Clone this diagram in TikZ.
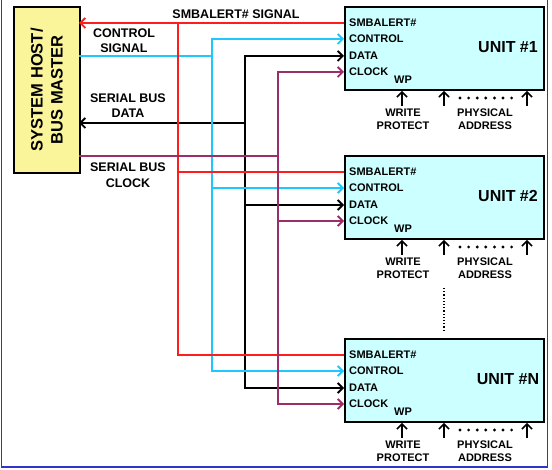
\documentclass[tikz,border=0pt]{standalone}
\usepackage{fontspec}
\setmainfont{Liberation Sans}
\usetikzlibrary{arrows.meta}
\definecolor{sigred}{RGB}{255,28,28}
\definecolor{sigcyan}{RGB}{30,200,255}
\definecolor{sigpurple}{RGB}{155,45,105}
\definecolor{unitfill}{RGB}{204,255,255}
\definecolor{hostfill}{RGB}{250,245,155}
\definecolor{frameblue}{RGB}{50,50,205}
\tikzset{
  barb/.tip={Straight Barb[length=5pt,width=10pt]},
  sig/.style={line width=1.9pt},
  unitbox/.style={draw=black, line width=1.9pt, fill=unitfill, anchor=north west,
    minimum width=199pt, minimum height=83pt, inner sep=0pt},
  hostbox/.style={draw=black, line width=1.6pt, fill=hostfill, anchor=north west,
    minimum width=66pt, minimum height=166pt, inner sep=0pt},
  pinlbl/.style={anchor=base west, inner sep=0pt, font=\bfseries\fontsize{11}{13}\selectfont},
  unitname/.style={inner sep=0pt, font=\bfseries\fontsize{16}{18}\selectfont},
  smalllbl/.style={inner sep=0pt, align=center, font=\bfseries\fontsize{11}{13}\selectfont},
  sidelbl/.style={inner sep=0pt, align=center, font=\bfseries\fontsize{12.5}{15.4}\selectfont},
  uparrow/.style={line width=1.6pt, -barb},
}
\begin{document}
\begin{tikzpicture}[x=1pt,y=-1pt]
\useasboundingbox (0,0) rectangle (552,470);
% frame
\draw[frameblue, line width=1.5pt] (1.5,0) -- (1.5,467) -- (547.5,467) -- (547.5,0);

% host
\node[hostbox] (host) at (13,6) {};
\node[rotate=90, align=center, inner sep=0pt, font=\bfseries\fontsize{16.5}{20}\selectfont]
  (hosttext) at (host.center) {SYSTEM HOST/\\BUS MASTER};
\coordinate (h-alert) at (79,23);
\coordinate (h-ctl) at (79,56);
\coordinate (h-data) at (79,123);
\coordinate (h-clk) at (79,156);

% trunks
\coordinate (tr) at (178,0);
\coordinate (tc) at (212,0);
\coordinate (tb) at (245,0);
\coordinate (tp) at (278,0);

% units
\foreach \u/\t/\lab in {1/0/1, 2/149/2, N/332/N} {
  \begin{scope}[shift={(0,\t)}]
    \node[unitbox] (u\u) at (344,6) {};
    \node[unitname] (u\u-name) at (508,47) {UNIT \#\lab};
    \node[pinlbl] (u\u-l1) at (349,27) {SMBALERT\#};
    \node[pinlbl] (u\u-l2) at (349,43) {CONTROL};
    \node[pinlbl] (u\u-l3) at (349,60) {DATA};
    \node[pinlbl] (u\u-l4) at (349,76) {CLOCK};
    \node[smalllbl] (u\u-wp) at (403,80) {WP};
    \coordinate (u\u-smb) at (344,23);
    \coordinate (u\u-ctl) at (344,39);
    \coordinate (u\u-data) at (344,56);
    \coordinate (u\u-clk) at (344,72);
    \coordinate (u\u-p1) at (402,106);
    \coordinate (u\u-p2) at (444,106);
    \coordinate (u\u-p3) at (527,106);
    \draw[uparrow] (u\u-p1) -- (u\u-p1 |- u\u.south);
    \draw[uparrow] (u\u-p2) -- (u\u-p2 |- u\u.south);
    \draw[uparrow] (u\u-p3) -- (u\u-p3 |- u\u.south);
    \foreach \i in {0,...,6} \fill (460+8.6*\i,98) circle (1.6pt);
    \node[smalllbl] (u\u-wptext) at (403,119.5) {WRITE\\PROTECT};
    \node[smalllbl] (u\u-addr) at (485,119.5) {PHYSICAL\\ADDRESS};
  \end{scope}
}
\coordinate (dotA) at (444,288);
\coordinate (dotB) at (444,330);
\draw[line width=1.2pt, dotted] (dotA) -- (dotB);

% side labels
\node[sidelbl] (lbl-alert) at (236,14) {SMBALERT\# SIGNAL};
\node[sidelbl] (lbl-ctl) at (124,41) {CONTROL\\SIGNAL};
\node[sidelbl] (lbl-data) at (128,105.5) {SERIAL BUS\\DATA};
\node[sidelbl] (lbl-clk) at (128,175) {SERIAL BUS\\CLOCK};

% black data
\draw[sig, black, barb-] (h-data) -- (tb |- h-data);
\draw[sig, black, barb-barb] (u1-data) -- (tb |- u1-data) -- (tb |- uN-data) -- (uN-data);
\draw[sig, black, -barb] (tb |- u2-data) -- (u2-data);
% cyan control
\draw[sig, sigcyan] (h-ctl) -- (tc |- h-ctl);
\draw[sig, sigcyan, barb-barb] (u1-ctl) -- (tc |- u1-ctl) -- (tc |- uN-ctl) -- (uN-ctl);
\draw[sig, sigcyan, -barb] (tc |- u2-ctl) -- (u2-ctl);
% red alert
\draw[sig, sigred, barb-] (h-alert) -- (u1-smb);
\draw[sig, sigred] (tr |- u1-smb) -- (tr |- uN-smb) -- (uN-smb);
\draw[sig, sigred] (tr |- u2-smb) -- (u2-smb);
% purple clock
\draw[sig, sigpurple] (h-clk) -- (tp |- h-clk);
\draw[sig, sigpurple, barb-barb] (u1-clk) -- (tp |- u1-clk) -- (tp |- uN-clk) -- (uN-clk);
\draw[sig, sigpurple, -barb] (tp |- u2-clk) -- (u2-clk);
\end{tikzpicture}
\end{document}
